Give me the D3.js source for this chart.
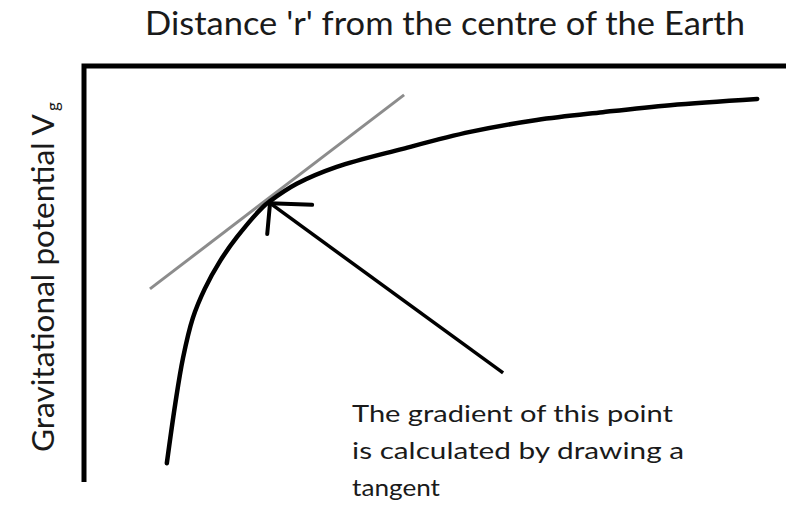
<!DOCTYPE html>
<html>
<head>
<meta charset="utf-8">
<script src="https://cdn.jsdelivr.net/npm/d3@7"></script>
<style>
  html, body { margin: 0; padding: 0; background: #fff; }
  svg { display: block; }
  text { font-family: Lato, "Open Sans", sans-serif; fill: #1a1a1a; }
</style>
</head>
<body>
<svg id="chart" width="786" height="510"></svg>
<script>
// Potential curve V(r), in chart units (r: 0–100, V: 0–100)
const curveR = [11.8, 13.0, 14.1, 15.5, 17.2, 19.4, 21.8, 25.5, 26.5, 30.3, 36.0, 45.4, 55.0, 64.5, 73.9, 83.5, 95.9];
const curveV = [3.6, 18.0, 29.1, 38.8, 45.9, 52.7, 58.5, 65.8, 67.2, 71.4, 75.5, 79.9, 84.0, 86.9, 88.8, 90.5, 92.0];

// Tangent line end points
const tangentR = [9.4, 45.6];
const tangentV = [45.9, 93.0];

// Pointer arrow: tail, tip, and the two barbs at the tip
const arrowR = [59.7, 26.5];
const arrowV = [25.5, 66.7];
const barbR = [32.5, 26.1];
const barbV = [66.3, 59.2];

// Text
const xTitle = "Distance 'r' from the centre of the Earth";
const yTitle = "Gravitational potential V";
const ySub = "g";
const noteLines = ["The gradient of this point", "is calculated by drawing a", "tangent"];

const svg = d3.select("#chart");
const x = d3.scaleLinear().domain([0, 100]).range([84, 786]);
const y = d3.scaleLinear().domain([0, 100]).range([478, 66]);

// Axes: the r axis runs along the top, the V axis down the left
svg.append("path")
  .attr("d", d3.line()([[x(0), y(-1)], [x(0), y(100)], [x(100), y(100)]]))
  .attr("fill", "none")
  .attr("stroke", "#000")
  .attr("stroke-width", 5)
  .attr("stroke-linejoin", "miter");

// Tangent line (grey)
svg.append("line")
  .attr("x1", x(tangentR[0])).attr("y1", y(tangentV[0]))
  .attr("x2", x(tangentR[1])).attr("y2", y(tangentV[1]))
  .attr("stroke", "#8c8c8c")
  .attr("stroke-width", 3);

// Potential curve
const pts = curveR.map((r, i) => [x(r), y(curveV[i])]);
svg.append("path")
  .attr("d", d3.line().curve(d3.curveCatmullRom.alpha(0.5))(pts))
  .attr("fill", "none")
  .attr("stroke", "#000")
  .attr("stroke-width", 4.5)
  .attr("stroke-linecap", "round");

// Pointer arrow
const tip = [x(arrowR[1]), y(arrowV[1])];
svg.append("line")
  .attr("x1", x(arrowR[0])).attr("y1", y(arrowV[0]))
  .attr("x2", tip[0]).attr("y2", tip[1])
  .attr("stroke", "#000").attr("stroke-width", 3.5);
barbR.forEach((r, i) => {
  svg.append("line")
    .attr("x1", tip[0]).attr("y1", tip[1])
    .attr("x2", x(r)).attr("y2", y(barbV[i]))
    .attr("stroke", "#000").attr("stroke-width", 4)
    .attr("stroke-linecap", "round");
});

// Axis titles
svg.append("text")
  .attr("x", 145).attr("y", 35)
  .attr("font-size", 32)
  .attr("textLength", 600)
  .attr("lengthAdjust", "spacingAndGlyphs")
  .text(xTitle);

const yl = svg.append("g").attr("transform", "translate(54,452) rotate(-90)");
yl.append("text")
  .attr("x", 0).attr("y", 0)
  .attr("font-size", 31)
  .attr("textLength", 338)
  .attr("lengthAdjust", "spacingAndGlyphs")
  .text(yTitle);
yl.append("text")
  .attr("x", 341).attr("y", 5)
  .attr("font-size", 17)
  .text(ySub);

// Annotation
const noteWidths = [321, 332, 88];
noteLines.forEach((line, i) => {
  svg.append("text")
    .attr("x", 352).attr("y", 422 + i * 37)
    .attr("font-size", 23)
    .attr("textLength", noteWidths[i])
    .attr("lengthAdjust", "spacingAndGlyphs")
    .text(line);
});
</script>
</body>
</html>
